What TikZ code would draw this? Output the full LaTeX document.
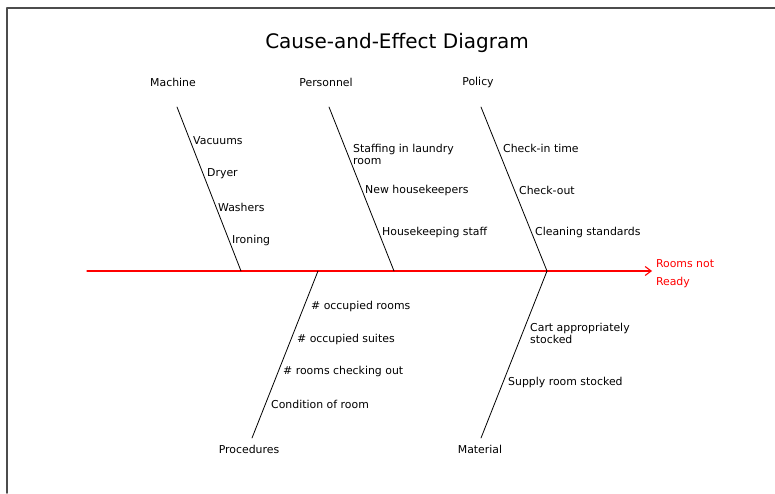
\documentclass[tikz,border=0pt]{standalone}
\usepackage{fontspec}
\setmainfont{DejaVu Sans}
\usetikzlibrary{arrows.meta}

\tikzset{
  cause/.style={font=\fontsize{10.9}{12}\selectfont, inner sep=0pt, anchor=west, align=left},
  category/.style={font=\fontsize{10.9}{12}\selectfont, inner sep=0pt},
  bone/.style={black, line width=0.8pt},
  spine/.style={red, line width=1.1pt, -{Straight Barb[length=6pt,width=9pt]}}
}

\begin{document}
\begin{tikzpicture}[line cap=round,line join=round,x=1pt,y=-1pt]
		\useasboundingbox (0,0) rectangle (775,493);
		%cadre
		\draw[gray!60!black, line width=1.6pt] (7,493) -- (7,8) -- (775,8);
		%titre
		\node[font=\fontsize{20}{23}\selectfont] (title) at (397,43) {Cause-and-Effect Diagram};
		%arete principale
		\coordinate (tail) at (87,271);
		\node[cause, red, font=\fontsize{10.9}{18}\selectfont, outer sep=4pt] (effect) at (652,274) {Rooms not\\Ready};
		\draw[spine] (tail) -- (effect.west |- tail);
		%Machine
		\node[category] (machine) at (173,82) {Machine};
		\coordinate (mtop) at (177,107);
		\coordinate (mbot) at (241,271);
		\draw[bone] (mtop) -- (mbot);
		\node[cause] (vacuums) at (193,141) {Vacuums};
		\node[cause] (dryer) at (207,174) {Dryer};
		\node[cause] (washers) at (218,207) {Washers};
		\node[cause] (ironing) at (232,240) {Ironing};
		%Personnel
		\node[category] (personnel) at (326,82) {Personnel};
		\coordinate (ptop) at (329,107);
		\coordinate (pbot) at (394,271);
		\draw[bone] (ptop) -- (pbot);
		\node[cause] (staffing) at (353,154) {Staffing in laundry\\room};
		\node[cause] (newhk) at (365,190) {New housekeepers};
		\node[cause] (hkstaff) at (382,232) {Housekeeping staff};
		%Policy
		\node[category] (policy) at (478,82) {Policy};
		\coordinate (ltop) at (481,107);
		\coordinate (lbot) at (547,271);
		\draw[bone] (ltop) -- (lbot);
		\node[cause] (checkin) at (503,148) {Check-in time};
		\node[cause] (checkout) at (519,190) {Check-out};
		\node[cause] (cleaning) at (535,232) {Cleaning standards};
		%Procedures
		\node[category] (procedures) at (249,449) {Procedures};
		\coordinate (rtop) at (318,271);
		\coordinate (rbot) at (252,438);
		\draw[bone] (rtop) -- (rbot);
		\node[cause] (occrooms) at (311,306) {\# occupied rooms};
		\node[cause] (occsuites) at (297,339) {\# occupied suites};
		\node[cause] (checking) at (283,371) {\# rooms checking out};
		\node[cause] (condition) at (271,404) {Condition of room};
		%Material
		\node[category] (material) at (480,449) {Material};
		\coordinate (atop) at (547,271);
		\coordinate (abot) at (481,438);
		\draw[bone] (atop) -- (abot);
		\node[cause] (cart) at (530,333) {Cart appropriately\\stocked};
		\node[cause] (supply) at (508,382) {Supply room stocked};
\end{tikzpicture}
\end{document}
